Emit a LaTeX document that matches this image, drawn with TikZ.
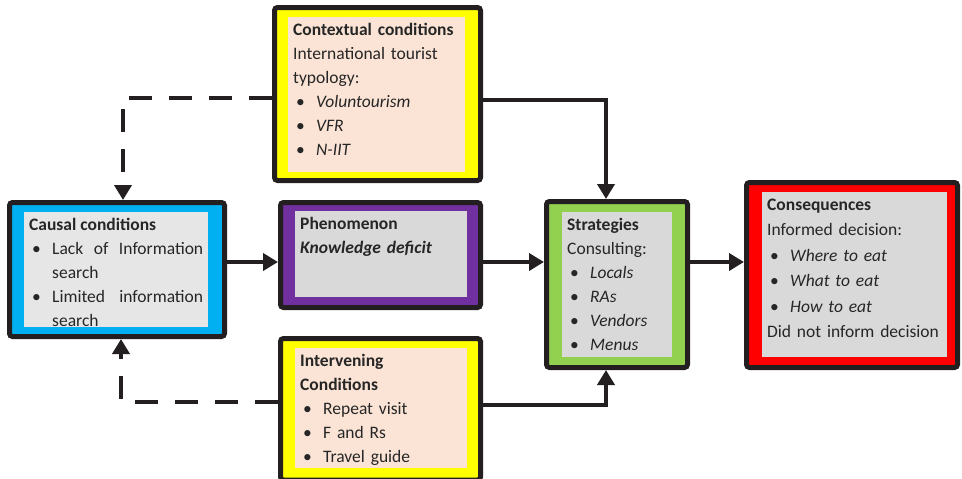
\documentclass[tikz,border=0pt]{standalone}
\usepackage{fontspec}
\setmainfont{Carlito}
\usepackage{xcolor}
\usetikzlibrary{arrows.meta,positioning}
\definecolor{BL}{HTML}{00B0F0}
\definecolor{YE}{HTML}{FFFF00}
\definecolor{PU}{HTML}{7030A0}
\definecolor{GR}{HTML}{92D050}
\definecolor{RD}{HTML}{FF0000}
\definecolor{GY}{HTML}{D9D9D9}
\definecolor{GL}{HTML}{E7E6E6}
\definecolor{PK}{HTML}{FBE4D5}
\definecolor{LN}{HTML}{231F20}
\hyphenpenalty=10000
\newcommand{\itm}[1]{\par\hangindent=23pt\hangafter=1\noindent\makebox[23pt][l]{\hspace{3pt}\textbullet}#1\par}

\begin{document}
\begin{tikzpicture}[x=1pt,y=-1pt,
    boxframe/.style={draw=LN, line width=5pt, rounded corners=3pt, fill=#1, inner sep=0pt},
    boxpanel/.style={fill=#1, anchor=north west, inner xsep=5pt, inner ysep=4pt,
      text height=14pt, align=left, text=black!85, font=\fontsize{17.5}{24}\selectfont},
    link/.style={draw=LN, line width=4.5pt, -{Triangle[length=15pt,width=17pt]}},
    dashlink/.style={link, dash pattern=on 23pt off 17pt}]
  \useasboundingbox (0,0) rectangle (962,479);

  \node[boxframe=BL, minimum width=215pt, minimum height=134pt] (causal) at (117,269.5) {};
  \node[boxpanel=GL, text width=174pt, text depth=93pt, align=justify] (causaltxt) at (24,212) {
    \textbf{Causal conditions}
    \itm{Lack of Information search}
    \itm{Limited information search}};

  \node[boxframe=YE, minimum width=206pt, minimum height=173pt] (context) at (377.5,94) {};
  \node[boxpanel=PK, text width=167pt, text depth=133pt] (contexttxt) at (288,17) {
    \textbf{Contextual conditions}\\
    International tourist\\
    typology:
    \itm{\textit{Voluntourism}}
    \itm{\textit{VFR}}
    \itm{\textit{N-IIT}}};

  \node[boxframe=PU, minimum width=200pt, minimum height=105pt] (phenom) at (380.5,255) {};
  \node[boxpanel=GY, text width=162pt, text depth=64pt] (phenomtxt) at (295,211) {
    \textbf{Phenomenon}\\
    \textbf{\textit{Knowledge deficit}}};

  \node[boxframe=YE, minimum width=200pt, minimum height=141.5pt] (interv) at (380.5,409.25) {};
  \node[boxpanel=PK, text width=162pt, text depth=98pt] (intervtxt) at (295,348) {
    \textbf{Intervening}\\
    \textbf{Conditions}
    \itm{Repeat visit}
    \itm{F and Rs}
    \itm{Travel guide}};

  \node[boxframe=GR, minimum width=141pt, minimum height=166pt] (strat) at (617,284.5) {};
  \node[boxpanel=GY, text width=100pt, text depth=123pt] (strattxt) at (562,212) {
    \textbf{Strategies}\\
    Consulting:
    \itm{\textit{Locals}}
    \itm{\textit{RAs}}
    \itm{\textit{Vendors}}
    \itm{\textit{Menus}}};

  \node[boxframe=RD, minimum width=211pt, minimum height=185pt] (conseq) at (852,275) {};
  \node[boxpanel=GY, text width=175pt, text depth=143pt,
        font=\fontsize{17.5}{25.5}\selectfont] (conseqtxt) at (762,192) {
    \textbf{Consequences}\\
    Informed decision:
    \itm{\textit{Where to eat}}
    \itm{\textit{What to eat}}
    \itm{\textit{How to eat}}
    Did not inform decision};

  \coordinate (midrow) at (0,262);
  \coordinate (toprow) at (606,100);
  \coordinate (botrow) at (606,405);
  \coordinate (dashtop) at (123,98);
  \coordinate (dashbot) at (121,402);

  \draw[link] (causal.east |- midrow) -- (phenom.west |- midrow);
  \draw[link] (phenom.east |- midrow) -- (strat.west |- midrow);
  \draw[link] (strat.east |- midrow) -- (conseq.west |- midrow);
  \draw[link] (context.east |- toprow) -| (strat.north -| toprow);
  \draw[link] (interv.east |- botrow) -| (strat.south -| botrow);
  \draw[dashlink] (context.west |- dashtop) -| (causal.north -| dashtop);
  \draw[dashlink] (interv.west |- dashbot) -| (causal.south -| dashbot);
\end{tikzpicture}
\end{document}
